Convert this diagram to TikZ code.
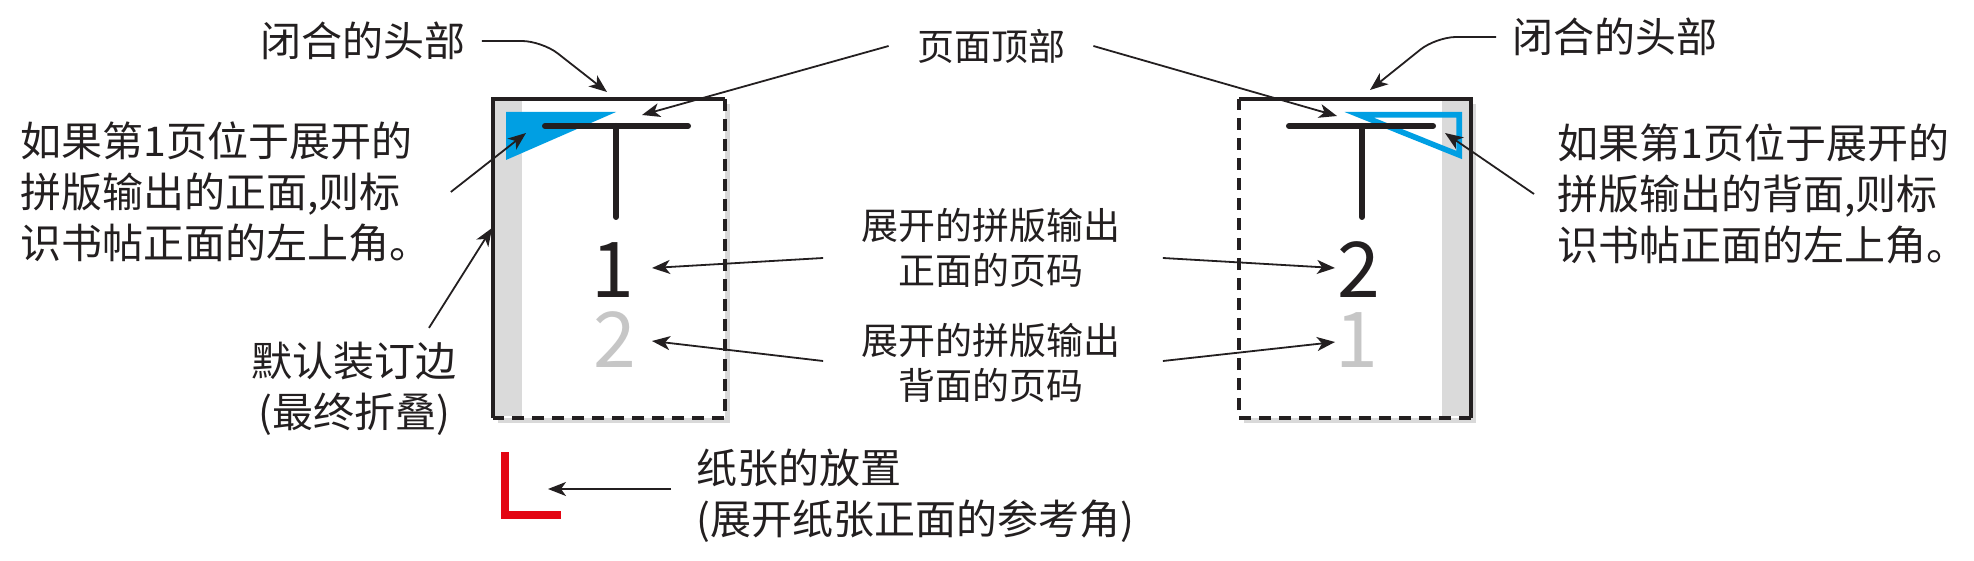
\documentclass[tikz,border=0pt]{standalone}
\usepackage{fontspec}
\setmainfont{Noto Sans CJK SC}
\usepackage{tikz}
\usetikzlibrary{arrows.meta, shadows}
\usepackage{xcolor}
\definecolor{inkblack}{RGB}{35, 31, 32}
\definecolor{markblue}{RGB}{0, 159, 227}
\definecolor{spinegray}{RGB}{218, 218, 218}
\definecolor{ghostgray}{RGB}{198, 198, 198}
\definecolor{refred}{RGB}{227, 6, 19}

\begin{document}
\begin{tikzpicture}[x=0.5pt, y=-0.5pt,
  calltext/.style={inner sep=0pt, text=inkblack, font=\fontsize{20.5pt}{25.5pt}\selectfont},
  midtext/.style={inner sep=0pt, text=inkblack, align=center, font=\fontsize{18.5pt}{22.5pt}\selectfont},
  folio/.style={inner sep=0pt, text=inkblack, font=\fontsize{38.5pt}{38.5pt}\selectfont},
  pointer/.style={draw=inkblack, line width=0.9pt, -{Stealth[length=9pt, width=7pt, inset=2.5pt]}},
  sheet/.style={fill=white, drop shadow={shadow xshift=2.5pt, shadow yshift=-2.5pt, opacity=0.3}},
  solidedge/.style={draw=inkblack, line width=2.4pt},
  dashededge/.style={draw=inkblack, line width=2.4pt, dash pattern=on 6pt off 4pt},
  tmark/.style={draw=inkblack, line width=3pt, line cap=round}]
  \useasboundingbox (0,0) rectangle (1974,561);

  % Left sheet (front)
  \path[sheet] (493,99) rectangle (725,418);
  \fill[spinegray] (495,101) rectangle (522,416);
  \fill[markblue] (506,112) -- (616,112) -- (506,160) -- cycle;
  \draw[solidedge] (493,418) -- (493,99) -- (725,99);
  \draw[dashededge] (725,99) -- (725,418) -- (493,418);
  \draw[tmark] (545,126) -- (688,126) (616,126) -- (616,217);
  \node[folio] (frontL) at (613,270) {1};
  \node[folio, text=ghostgray] (backL) at (615,340) {2};

  % Right sheet (back)
  \path[sheet] (1239,99) rectangle (1471,418);
  \fill[spinegray] (1442,101) rectangle (1469,416);
  \draw[markblue, line width=2.8pt] (1359,114.8) -- (1459.2,114.8) -- (1459.2,155) -- cycle;
  \draw[solidedge] (1239,99) -- (1471,99) -- (1471,418);
  \draw[dashededge] (1471,418) -- (1239,418) -- (1239,99);
  \draw[tmark] (1289,126) -- (1433,126) (1362,126) -- (1362,217);
  \node[folio] (frontR) at (1359,270) {2};
  \node[folio, text=ghostgray] (backR) at (1357,340) {1};

  % Reference corner
  \draw[refred, line width=4pt] (504.5,452) -- (504.5,515) -- (561,515);

  % Labels
  \node[calltext] (headL) at (363,41) {闭合的头部};
  \node[calltext] (headR) at (1615,37) {闭合的头部};
  \node[midtext] (topnote) at (991,46) {页面顶部};
  \node[calltext, anchor=west, align=left] (cornerL) at (20,192) {如果第1页位于展开的\\拼版输出的正面,则标\\识书帖正面的左上角。};
  \node[calltext, anchor=west, align=left] (cornerR) at (1557,194) {如果第1页位于展开的\\拼版输出的背面,则标\\识书帖正面的左上角。};
  \node[calltext, align=center] (bindnote) at (354,389) {默认装订边\\(最终折叠)};
  \node[midtext] (frontnote) at (991,248) {展开的拼版输出\\正面的页码};
  \node[midtext] (backnote) at (991,363) {展开的拼版输出\\背面的页码};
  \node[calltext, anchor=west, align=left] (papernote) at (696,496) {纸张的放置\\(展开纸张正面的参考角)};

  % Arrow targets
  \coordinate (headTipL) at (607,92);
  \coordinate (headTipR) at (1370,90);
  \coordinate (topTipL) at (642,115);
  \coordinate (topTipR) at (1337,116);
  \coordinate (cornerTipL) at (526,133);
  \coordinate (cornerTipR) at (1445,133);
  \coordinate (spineTip) at (492,228);
  \coordinate (frontTipL) at (652,268);
  \coordinate (frontTipR) at (1335,268);
  \coordinate (backTipL) at (652,341);
  \coordinate (backTipR) at (1335,342);
  \coordinate (paperTip) at (548,489);

  % Arrows
  \draw[pointer, rounded corners=10pt] ([xshift=8pt]headL.east) -- ++(60,0) -- (headTipL);
  \draw[pointer, rounded corners=10pt] ([xshift=-8pt]headR.west) -- ++(-60,0) -- (headTipR);
  \draw[pointer] ([xshift=-14pt]topnote.west) -- (topTipL);
  \draw[pointer] ([xshift=14pt]topnote.east) -- (topTipR);
  \draw[pointer] ([xshift=10pt]cornerL.east) -- (cornerTipL);
  \draw[pointer] ([xshift=-11.5pt]cornerR.west) -- (cornerTipR);
  \draw[pointer] ([xshift=37.5pt, yshift=7pt]bindnote.north) -- (spineTip);
  \draw[pointer] ([xshift=-19pt, yshift=-5pt]frontnote.west) -- (frontTipL);
  \draw[pointer] ([xshift=21pt, yshift=-5pt]frontnote.east) -- (frontTipR);
  \draw[pointer] ([xshift=-19pt, yshift=1pt]backnote.west) -- (backTipL);
  \draw[pointer] ([xshift=21pt, yshift=1pt]backnote.east) -- (backTipR);
  \draw[pointer] ([xshift=-12.5pt, yshift=3.5pt]papernote.west) -- (paperTip);
\end{tikzpicture}
\end{document}
